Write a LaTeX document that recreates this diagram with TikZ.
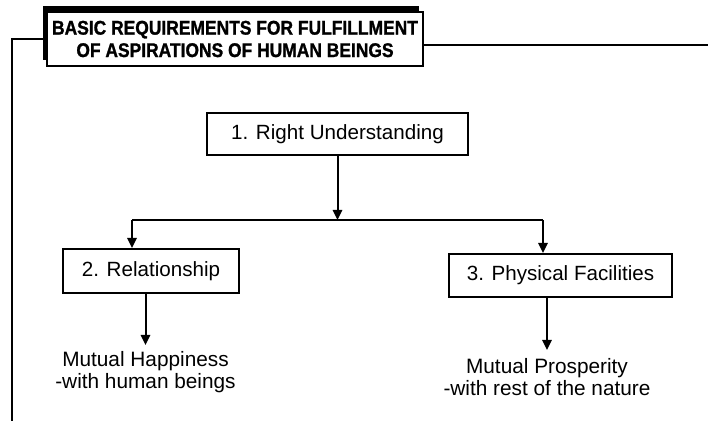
\documentclass[tikz,border=0pt]{standalone}
\usepackage{fontspec}
\setmainfont{Liberation Sans}
\newfontfamily\headfont[FakeStretch=0.88, BoldFeatures={FakeBold=1.2}]{Liberation Sans}
\usetikzlibrary{arrows.meta,shadows}

\begin{document}
\begin{tikzpicture}[x=0.5pt,y=-0.5pt,
  line/.style={line width=1pt},
  arr/.style={line width=1pt, -{Triangle[length=5pt,width=4.6pt]}},
  box/.style={draw, line width=1pt, fill=white, inner sep=0pt,
    font=\fontsize{10.3}{12}\selectfont},
  note/.style={align=center, inner xsep=0pt, inner ysep=3pt, anchor=north,
    font=\fontsize{10.4}{11}\selectfont},
  headbox/.style={draw, line width=1.1pt, fill=white, inner sep=0pt,
    minimum width=188pt, minimum height=27pt, align=center,
    font=\headfont\bfseries\fontsize{9.9}{11.2}\selectfont,
    drop shadow={shadow xshift=-2.2pt, shadow yshift=3.2pt, fill=black, opacity=1}}]
\useasboundingbox (0,0) rectangle (708,421);

% heading with its frame lines
\node[headbox] (title) at (235,39)
  {BASIC REQUIREMENTS FOR FULFILLMENT\\OF ASPIRATIONS OF HUMAN BEINGS};
\coordinate (fl) at (12,421);
\coordinate (fr) at (708,45);
\draw[line] (title.west) -| (fl);
\draw[line] (title.east |- fr) -- (fr);

% the three requirements
\node[box, minimum width=130.5pt, minimum height=21pt] (ru) at (337.5,134) {1. Right Understanding};
\node[box, minimum width=88pt, minimum height=22pt] (rel) at (151,271) {2. Relationship};
\node[box, minimum width=111.5pt, minimum height=21.5pt] (phy) at (560.5,275.5) {3. Physical Facilities};

% outcomes
\node[note] (hap) at (145.5,345) {Mutual Happiness\\-with human beings};
\node[note, inner ysep=4pt] (pro) at (547,350) {Mutual Prosperity\\-with rest of the nature};

% connectors
\coordinate (j) at (337.5,220);
\coordinate (jl) at (132,220);
\coordinate (jr) at (543,220);
\draw[arr] (ru.south) -- (j);
\draw[line] (jl) -- (jr);
\draw[arr] (jl) -- (jl |- rel.north);
\draw[arr] (jr) -- (jr |- phy.north);
\draw[arr] (rel.south -| hap.north) -- (hap.north);
\draw[arr] (phy.south -| pro.north) -- (pro.north);
\end{tikzpicture}
\end{document}
